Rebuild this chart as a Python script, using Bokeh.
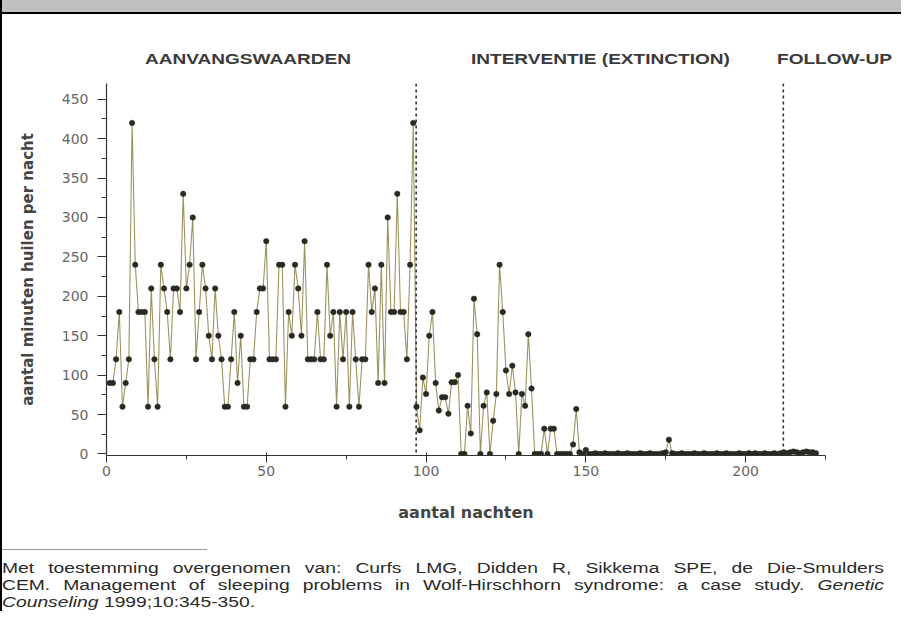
from bokeh.plotting import figure
from bokeh.models import ColumnDataSource, Span, SingleIntervalTicker, Range1d, Div
from bokeh.layouts import column
from bokeh.embed import file_html
from bokeh.resources import INLINE

# ---------------- data ----------------
baseline = [90, 90, 120, 180, 60, 90, 120, 420, 240, 180,
            180, 180, 60, 210, 120, 60, 240, 210, 180, 120,
            210, 210, 180, 330, 210, 240, 300, 120, 180, 240,
            210, 150, 120, 210, 150, 120, 60, 60, 120, 180,
            90, 150, 60, 60, 120, 120, 180, 210, 210, 270,
            120, 120, 120, 240, 240, 60, 180, 150, 240, 210,
            150, 270, 120, 120, 120, 180, 120, 120, 240, 150,
            180, 60, 180, 120, 180, 60, 180, 120, 60, 120,
            120, 240, 180, 210, 90, 240, 90, 300, 180, 180,
            330, 180, 180, 120, 240, 420]
intervention = [60, 30, 97, 76, 150, 180, 90, 55, 72, 72,
                51, 91, 91, 100, 0, 0, 61, 26, 197, 152,
                0, 61, 78, 0, 42, 76, 240, 180, 106, 76,
                112, 78, 0, 76, 61, 152, 83, 0, 0, 0,
                32, 0, 32, 32, 0, 0, 0, 0, 0, 12,
                57, 2, 0, 5, 0,
                0, 1, 0, 0, 1, 0, 0, 0, 1, 0, 0, 1, 0, 0, 0, 1, 0, 0, 1, 0, 0, 0, 1, 2,
                18,
                1, 0, 0, 1, 0, 0, 0, 1, 0, 0, 1, 0, 0, 0, 1, 0, 0, 1, 0, 0, 0, 1, 0, 0, 1,
                0, 1, 0, 0, 1, 0, 0, 1, 0, 1]
followup = [2, 1, 2, 3, 2, 1, 2, 3, 2, 2, 1]

minutes = baseline + intervention + followup
nights = list(range(1, len(minutes) + 1))
phase_changes = [96.9, 211.8]
phase_names = ["AANVANGSWAARDEN", "INTERVENTIE (EXTINCTION)", "FOLLOW-UP"]

note_line1 = "Met toestemming overgenomen van: Curfs LMG, Didden R, Sikkema SPE, de Die-Smulders"
note_line2 = "CEM. Management of sleeping problems in Wolf-Hirschhorn syndrome: a case study."
note_journal = ["Genetic", "Counseling"]
note_line3 = "1999;10:345-350."

# ---------------- layout constants ----------------
W = 899
TOP_H, FIG_H, BOT_H = 78, 452, 81
FONT = "DejaVu Sans"
HTML_FONT = "'Liberation Sans', Arial, sans-serif"

# ---------------- header (gray band + phase headings) ----------------
head_left = [143, 469, 775]
heads = "".join(
    f'<div style="position:absolute;left:{x}px;top:51px;line-height:16px;white-space:nowrap;'
    f'font-family:{HTML_FONT};font-weight:bold;font-size:14px;color:#3a3a3a;'
    f'transform:scaleX(1.36);transform-origin:left center;">{n}</div>'
    for n, x in zip(phase_names, head_left))
top_html = (
    f'<div style="position:relative;width:{W}px;height:{TOP_H}px;background:white;overflow:hidden;">'
    f'<div style="position:absolute;left:0;top:0;width:{W}px;height:12px;background:#c0c0c0;"></div>'
    f'<div style="position:absolute;left:0;top:12px;width:{W}px;height:2px;background:#000;"></div>'
    f'{heads}</div>')
top_div = Div(text=top_html, width=W, height=TOP_H, margin=0)

# ---------------- chart ----------------
fig = figure(width=W, height=FIG_H, output_backend="svg", toolbar_location=None,
             x_range=Range1d(0, 225), y_range=Range1d(-2, 470),
             min_border_left=104, min_border_right=76, min_border_top=5, min_border_bottom=75,
             margin=0)
fig.background_fill_color = "white"
fig.border_fill_color = "white"
fig.outline_line_color = None
fig.xgrid.visible = False
fig.ygrid.visible = False

for ax in (fig.xaxis[0], fig.yaxis[0]):
    ax.axis_line_color = "#333333"
    ax.axis_line_width = 1.2
    ax.major_tick_line_color = "#333333"
    ax.minor_tick_line_color = "#333333"
    ax.major_label_text_font = FONT
    ax.major_label_text_font_size = "14px"
    ax.major_label_text_color = "#666666"
    ax.axis_label_text_font = FONT
    ax.axis_label_text_font_style = "bold"
    ax.axis_label_text_color = "#444444"

fig.xaxis.ticker = SingleIntervalTicker(interval=50, num_minor_ticks=2)
fig.yaxis.ticker = SingleIntervalTicker(interval=50, num_minor_ticks=2)
fig.xaxis.major_tick_in = 3
fig.xaxis.major_tick_out = 7
fig.xaxis.minor_tick_in = 0
fig.xaxis.minor_tick_out = 4
fig.yaxis.major_tick_in = 0
fig.yaxis.major_tick_out = 9
fig.yaxis.minor_tick_in = 0
fig.yaxis.minor_tick_out = 5
fig.xaxis.major_label_standoff = 3
fig.yaxis.major_label_standoff = 9
fig.xaxis.axis_label = "aantal nachten"
fig.xaxis.axis_label_text_font_size = "16px"
fig.xaxis.axis_label_standoff = 24
fig.yaxis.axis_label = "aantal minuten huilen per nacht"
fig.yaxis.axis_label_text_font_size = "15px"
fig.yaxis.axis_label_standoff = 22

src = ColumnDataSource(dict(night=nights, minutes=minutes))
fig.line("night", "minutes", source=src, line_color="#9a9460", line_width=1.1)
fig.scatter("night", "minutes", source=src, marker="circle", size=5.5,
            fill_color="#2a2a22", line_color="#2a2a22", line_width=0.5)

for loc in phase_changes:
    fig.add_layout(Span(location=loc, dimension="height", line_color="#333333",
                        line_dash="3 3", line_width=1.6))

# ---------------- footnote ----------------
just = "text-align:justify;text-align-last:justify;white-space:nowrap;"
bot_html = (
    f'<div style="position:relative;width:{W}px;height:{BOT_H}px;background:white;overflow:hidden;">'
    f'<div style="position:absolute;left:0;top:19px;width:205px;height:1px;background:#9a9a9a;"></div>'
    f'<div style="position:absolute;left:0;top:30px;width:640px;font-family:{HTML_FONT};'
    f'font-size:14px;line-height:17px;color:#2a2a2a;transform:scaleX(1.378);transform-origin:left top;">'
    f'<div style="{just}">{note_line1}</div>'
    f'<div style="{just}">{note_line2} <i>{note_journal[0]}</i></div>'
    f'<div style="white-space:nowrap;"><i>{note_journal[1]}</i> {note_line3}</div>'
    f'</div></div>')
bot_div = Div(text=bot_html, width=W, height=BOT_H, margin=0)

p = column(top_div, fig, bot_div, spacing=0, margin=0,
           styles={"border-left": "2px solid black"})

open("out.html", "w").write(file_html(p, INLINE))
